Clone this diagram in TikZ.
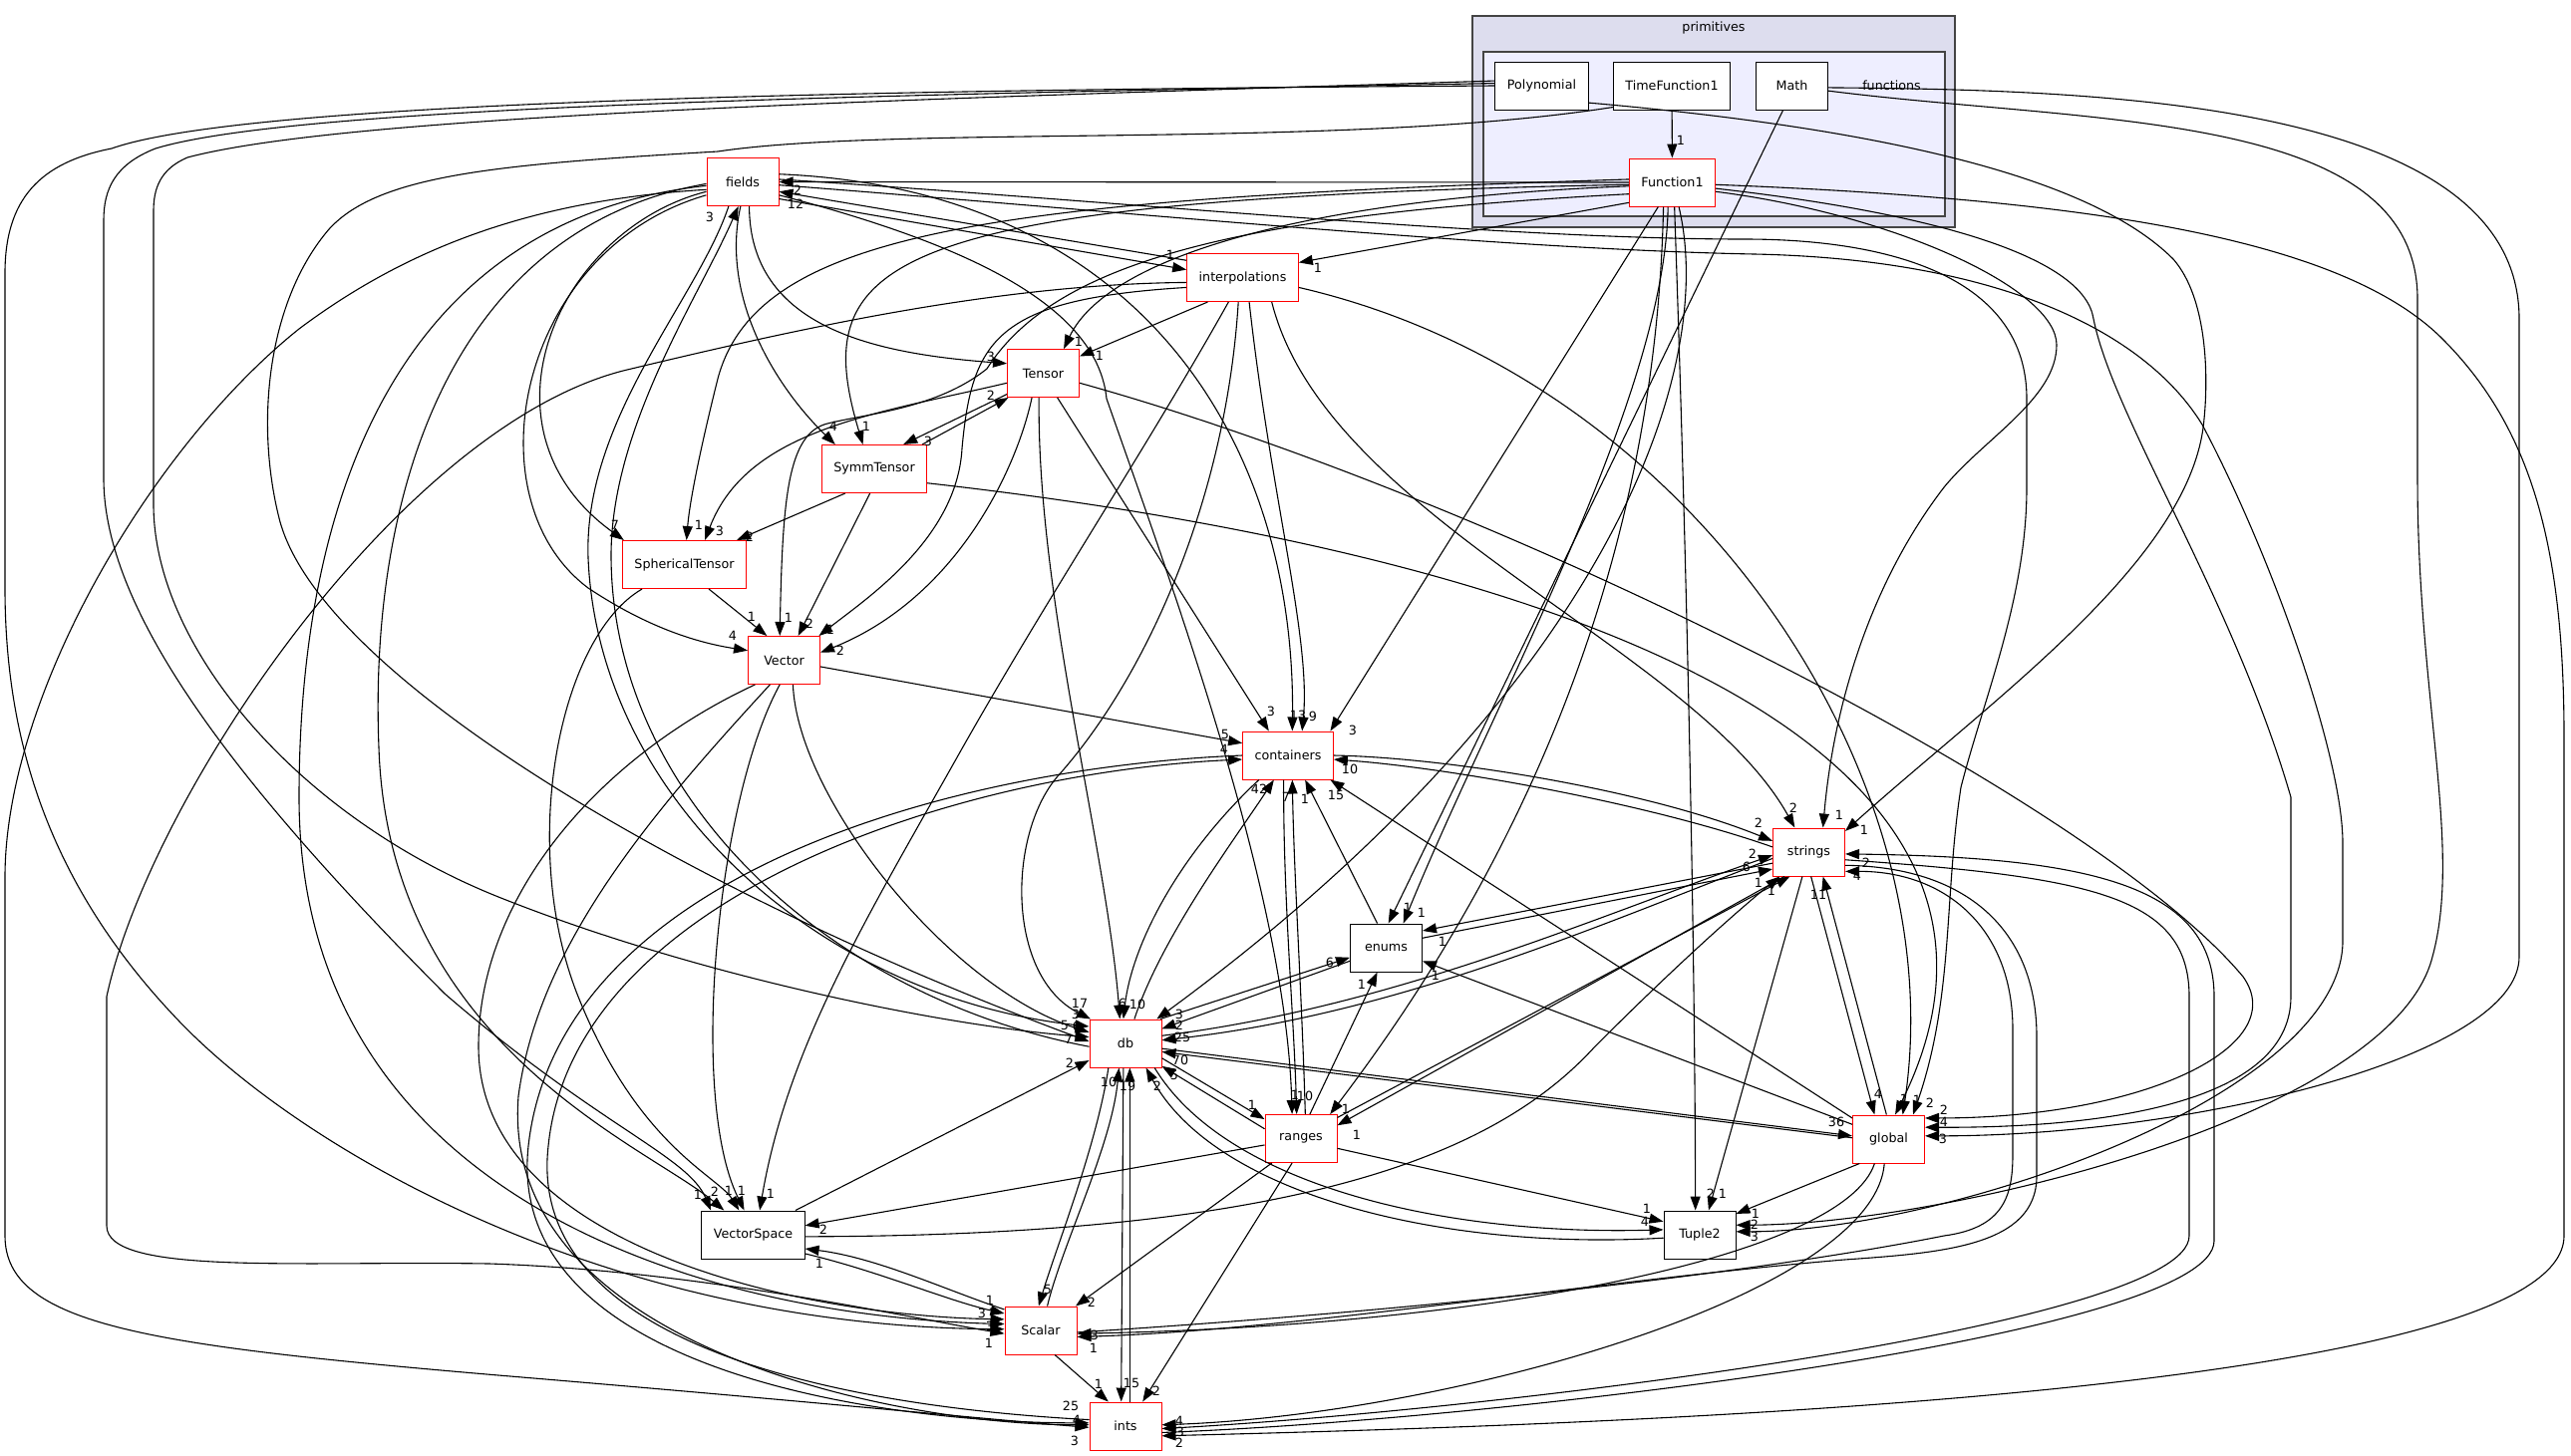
\documentclass[tikz,border=0pt]{standalone}
\usepackage{fontspec}
\setmainfont{DejaVu Sans}
\usetikzlibrary{arrows.meta}
\newcommand\nf{\fontsize{12.7pt}{15pt}\selectfont}
\newcounter{lc}
\newcommand\lbl[2]{\stepcounter{lc}\node[lab] (lab\thelc) at (#1) {#2};}
\definecolor{outerfill}{HTML}{DDDDEE}
\definecolor{innerfill}{HTML}{EEEEFF}
\definecolor{clborder}{HTML}{444444}
\begin{document}
\begin{tikzpicture}[x=1pt,y=-1pt,
  box/.style={draw=black,fill=white,line width=1pt,minimum width=72pt,minimum height=48pt,inner xsep=12pt,inner ysep=0pt,font=\nf},
  rbox/.style={box,draw=red},
  e/.style={line width=1.1pt,-{Triangle[length=14pt,width=10pt]}},
  lab/.style={font=\nf,inner sep=0pt,text=black},
  cl/.style={draw=clborder,line width=1.5pt,inner sep=0pt}]
\useasboundingbox (0,0) rectangle (2579,1460);
% clusters
\node[cl,fill=outerfill,minimum width=484pt,minimum height=212pt] (primitives) at (1719,122) {};
\node[cl,fill=innerfill,minimum width=463pt,minimum height=165pt] (functions) at (1719.5,134.5) {};
\node[lab] (primlabel) at (1719,28) {primitives};
\node[lab] (funclabel) at (1897.5,86) {functions};
% nodes
\node[box] (poly) at (1546.5,86) {Polynomial};
\node[box] (tf1) at (1677,86) {TimeFunction1};
\node[box] (math) at (1797.5,86) {Math};
\node[rbox] (f1) at (1677.5,183) {Function1};
\node[rbox] (fields) at (745,182.5) {fields};
\node[rbox] (interp) at (1246.5,278.5) {interpolations};
\node[rbox] (tensor) at (1046.5,374.5) {Tensor};
\node[rbox] (symm) at (877,470.5) {SymmTensor};
\node[rbox] (sph) at (686.5,566.5) {SphericalTensor};
\node[rbox] (vector) at (786.5,662.5) {Vector};
\node[rbox] (cont) at (1292,758) {containers};
\node[rbox] (strings) at (1814.5,855) {strings};
\node[box] (enums) at (1390.5,951) {enums};
\node[rbox] (db) at (1129,1047) {db};
\node[rbox] (ranges) at (1305,1142.5) {ranges};
\node[rbox] (global) at (1894.5,1143) {global};
\node[box] (vspace) at (755.5,1239) {VectorSpace};
\node[box] (tuple2) at (1705,1239) {Tuple2};
\node[rbox] (scalar) at (1044,1335) {Scalar};
\node[rbox] (ints) at (1129,1431) {ints};
% ---- edges
\draw[e] (tf1) -- (f1); \lbl{1686,141}{1}
% fields / interpolations
\draw[e] (f1.west) -- (fields.east); \lbl{800,191}{2}
\draw[e] (interp.163) -- (fields.-15); \lbl{798,205}{12}
\draw[e] (fields.-25) -- (interp.172); \lbl{1174,256}{1}
\draw[e] (f1.205) -- (interp.15); \lbl{1322,269}{1}
% tensor
\draw[e] (fields.-75) .. controls (752,330) and (880,355) .. (tensor.165); \lbl{994,358}{3}
\draw[e] (f1.185) .. controls (1300,200) and (1110,260) .. (tensor.50); \lbl{1082,343}{1}
\draw[e] (interp.215) -- (tensor.25); \lbl{1103,357}{1}
\draw[e] (symm.27) -- (tensor.-145); \lbl{994,397}{2}
% symm
\draw[e] (tensor.-150) -- (symm.40); \lbl{931,443}{3}
\draw[e] (fields.-95) .. controls (722,300) and (780,390) .. (symm.148); \lbl{836,428}{4}
\draw[e] (f1.183) .. controls (880,200) and (810,260) .. (symm.115); \lbl{869,428}{1}
% spherical tensor
\draw[e] (f1.176) .. controls (1000,200) and (760,230) .. (720,380) .. controls (705,440) and (692,500) .. (sph.85); \lbl{701,527}{1}
\draw[e] (tensor.195) .. controls (880,415) and (750,430) .. (sph.50); \lbl{722,533}{3}
\draw[e] (symm.-140) -- (sph.25); \lbl{752,539}{2}
\draw[e] (fields.195) .. controls (560,230) and (470,430) .. (sph.158); \lbl{617,527}{7}
% vector
\draw[e] (fields.200) .. controls (520,250) and (470,500) .. (590,590) .. controls (650,630) and (700,645) .. (vector.165); \lbl{735,638}{4}
\draw[e] (sph.-45) -- (vector.125); \lbl{754,619}{1}
\draw[e] (f1.195) .. controls (1250,215) and (1060,260) .. (990,370) .. controls (940,410) and (870,415) .. (830,425) .. controls (790,435) and (785,500) .. (vector.100); \lbl{791,620}{1}
\draw[e] (symm.-100) -- (vector.60); \lbl{812,626}{2}
\draw[e] (interp.190) .. controls (1000,300) and (975,340) .. (965,450) .. controls (960,540) and (870,600) .. (vector.35); \lbl{833,632}{1}
\draw[e] (tensor.-115) .. controls (1020,470) and (960,600) .. (vector.12); \lbl{843,653}{2}
% containers
\draw[e] (vector.-10) -- (cont.165); \lbl{1229,737}{5}
\draw[e] (tensor.-60) -- (cont.128); \lbl{1275,714}{3}
\draw[e] (fields.12) .. controls (1150,190) and (1300,450) .. (cont.80); \lbl{1302,718}{13}
\draw[e] (interp.-75) .. controls (1275,500) and (1315,640) .. (cont.60); \lbl{1317,719}{9}
\draw[e] (f1.-120) -- (cont.30); \lbl{1357,733}{3}
\draw[e] (strings.172) .. controls (1650,805) and (1450,770) .. (cont.-5); \lbl{1354,772}{10}
\draw[e] (cont.0) .. controls (1450,760) and (1650,792) .. (strings.163); \lbl{1764,826}{2}
\draw[e] (db.70) .. controls (1165,940) and (1240,840) .. (cont.-120); \lbl{1263,792}{42}
\draw[e] (cont.-140) .. controls (1180,860) and (1135,950) .. (db.95); \lbl{1141,1008}{10}
\draw[e] (enums.110) -- (cont.-55); \lbl{1309,802}{1}
\draw[e] (ranges.80) .. controls (1306,1000) and (1298,880) .. (cont.-80); \lbl{1290,800}{7}
\draw[e] (cont.-100) .. controls (1287,900) and (1298,1020) .. (ranges.100); \lbl{1309,1100}{10}
\draw[e] (global.150) -- (cont.-30); \lbl{1340,798}{15}
\draw[e] (cont.180) .. controls (950,770) and (560,880) .. (530,1150) .. controls (505,1380) and (900,1428) .. (ints.175); \lbl{1074,1411}{25}
\draw[e] (ints.170) .. controls (910,1415) and (525,1370) .. (550,1150) .. controls (575,900) and (960,775) .. (cont.185); \lbl{1228,752}{4}
% strings
\draw[e] (interp.-40) .. controls (1330,520) and (1700,650) .. (strings.120); \lbl{1799,811}{2}
\draw[e] (f1.-12) .. controls (1900,215) and (2063,290) .. (2063,346) .. controls (2063,400) and (1990,440) .. (1950,489) .. controls (1880,580) and (1840,700) .. (strings.60); \lbl{1845,818}{1}
\draw[e] (poly.-20) .. controls (1900,130) and (2100,180) .. (2180,260) .. controls (2215,300) and (2215,380) .. (2211,420) .. controls (2200,560) and (2000,700) .. (strings.30); \lbl{1870,833}{1}
\draw[e] (db.12) .. controls (1400,1010) and (1600,920) .. (strings.185); \lbl{1758,857}{2}
\draw[e] (strings.190) .. controls (1600,930) and (1400,1018) .. (db.5); \lbl{1186,1041}{25}
\draw[e] (strings.197) -- (enums.25); \lbl{1447,945}{1}
\draw[e] (enums.15) -- (strings.205); \lbl{1752,870}{6}
\draw[e] (vspace.-2) .. controls (1300,1240) and (1500,1160) .. (1600,1050) .. controls (1700,950) and (1760,900) .. (strings.220); \lbl{1764,886}{1}
\draw[e] (ranges.30) -- (strings.232); \lbl{1777,894}{1}
\draw[e] (strings.225) -- (ranges.20); \lbl{1361,1139}{1}
\draw[e] (global.95) -- (strings.-60); \lbl{1824,898}{11}
\draw[e] (strings.-85) -- (global.120); \lbl{1884,1098}{4}
\draw[e] (scalar.-3) .. controls (1500,1310) and (1800,1270) .. (1950,1240) .. controls (2010,1232) and (2019,1200) .. (2019,1158) -- (2019,1033) .. controls (2019,930) and (1950,874) .. (strings.-28); \lbl{1863,879}{4}
\draw[e] (strings.-20) .. controls (1980,870) and (2043,940) .. (2043,1040) -- (2043,1180) .. controls (2043,1250) and (1950,1257) .. (1850,1264) .. controls (1600,1285) and (1300,1335) .. (scalar.-10); \lbl{1097,1353}{1}
\draw[e] (ints.-10) .. controls (1500,1425) and (2221,1340) .. (2221,1245) -- (2221,1000) .. controls (2221,890) and (2100,860) .. (strings.-3); \lbl{1872,866}{2}
\draw[e] (strings.-12) .. controls (2100,880) and (2196,900) .. (2196,1000) -- (2196,1240) .. controls (2196,1330) and (1500,1415) .. (ints.-4); \lbl{1184,1437}{3}
% tuple2
\draw[e] (strings.-105) -- (tuple2.70); \lbl{1716,1198}{2}
\draw[e] (f1.-85) .. controls (1690,500) and (1700,900) .. (tuple2.100); \lbl{1728,1198}{1}
\draw[e] (ranges.-15) -- (tuple2.160); \lbl{1652,1213}{1}
\draw[e] (db.-40) .. controls (1230,1190) and (1450,1240) .. (tuple2.172); \lbl{1650,1226}{4}
\draw[e] (tuple2.185) .. controls (1450,1255) and (1220,1200) .. (db.-50); \lbl{1161,1090}{2}
\draw[e] (global.-140) -- (tuple2.30); \lbl{1761,1218}{1}
\draw[e] (math.-8) .. controls (2100,125) and (2425,110) .. (2425,300) -- (2425,480) .. controls (2425,700) and (2470,850) .. (2440,960) .. controls (2400,1120) and (1950,1229) .. (tuple2.15); \lbl{1760,1229}{2}
\draw[e] (fields.-5) .. controls (1100,210) and (1500,250) .. (1760,255) .. controls (2000,260) and (2150,330) .. (2209,426) .. controls (2280,560) and (2350,760) .. (2350,846) -- (2350,944) .. controls (2350,1100) and (1950,1236) .. (tuple2.5); \lbl{1760,1241}{3}
% global
\draw[e] (symm.-15) .. controls (1600,560) and (2080,760) .. (global.75); \lbl{1910,1103}{1}
\draw[e] (interp.-10) .. controls (1700,380) and (1960,780) .. (global.60); \lbl{1923,1104}{1}
\draw[e] (fields.4) .. controls (1100,200) and (1500,240) .. (1750,240) .. controls (1900,240) and (2033,280) .. (2033,400) -- (2033,489) .. controls (2033,600) and (1990,700) .. (1967,790) .. controls (1950,900) and (1960,1000) .. (global.45); \lbl{1936,1107}{2}
\draw[e] (tensor.-15) .. controls (1500,500) and (2100,800) .. (2250,980) .. controls (2300,1050) and (2150,1122) .. (global.30); \lbl{1950,1114}{2}
\draw[e] (f1.-8) .. controls (1950,215) and (2091,260) .. (2100,320) .. controls (2120,420) and (2240,600) .. (2298,800) -- (2298,1000) .. controls (2298,1110) and (2100,1132) .. (global.18); \lbl{1950,1126}{4}
\draw[e] (math.-3) .. controls (2100,90) and (2527,100) .. (2527,320) -- (2527,960) .. controls (2527,1060) and (2200,1140) .. (global.5); \lbl{1949,1143}{3}
\draw[e] (db.-8) -- (global.175); \lbl{1842,1126}{36}
\draw[e] (global.178) -- (db.-13); \lbl{1184,1064}{70}
% enums
\draw[e] (math.-110) -- (enums.85); \lbl{1412,911}{1}
\draw[e] (f1.-100) .. controls (1670,400) and (1500,700) .. (enums.55); \lbl{1426,916}{1}
\draw[e] (global.158) -- (enums.-20); \lbl{1440,979}{1}
\draw[e] (db.35) -- (enums.195); \lbl{1334,966}{6}
\draw[e] (enums.200) -- (db.22); \lbl{1183,1029}{2}
\draw[e] (ranges.70) -- (enums.-110); \lbl{1366,988}{1}
% db
\draw[e] (f1.-75) .. controls (1725,380) and (1600,700) .. (db.38); \lbl{1183,1018}{3}
\draw[e] (interp.-100) .. controls (1230,500) and (1150,680) .. (1060,780) .. controls (1010,840) and (1010,980) .. (db.145); \lbl{1083,1007}{17}
\draw[e] (tensor.-100) .. controls (1040,600) and (1110,850) .. (db.103); \lbl{1126,1007}{6}
\draw[e] (fields.-120) .. controls (700,300) and (585,420) .. (590,560) .. controls (600,800) and (820,1000) .. (db.155); \lbl{1079,1018}{3}
\draw[e] (db.185) .. controls (830,1000) and (615,800) .. (613,560) .. controls (612,430) and (700,300) .. (fields.-100); \lbl{712,218}{3}
\draw[e] (vector.-70) .. controls (800,800) and (950,990) .. (db.163); \lbl{1068,1029}{5}
\draw[e] (poly.174) .. controls (900,100) and (350,115) .. (188,158) .. controls (160,170) and (154,190) .. (154,212) -- (154,506) .. controls (154,650) and (300,820) .. (500,900) .. controls (700,980) and (950,1030) .. (db.170); \lbl{1080,1030}{6}
\draw[e] (tf1.200) .. controls (1350,150) and (900,125) .. (720,152) .. controls (500,165) and (380,175) .. (330,230) .. controls (270,300) and (255,420) .. (280,520) .. controls (320,680) and (700,900) .. (db.177); \lbl{1072,1043}{7}
\draw[e] (vspace.30) -- (db.205); \lbl{1073,1067}{2}
\draw[e] (db.-22) -- (ranges.152); \lbl{1256,1109}{1}
\draw[e] (ranges.165) -- (db.-32); \lbl{1178,1079}{5}
% ranges
\draw[e] (f1.-110) .. controls (1660,600) and (1500,900) .. (ranges.40); \lbl{1350,1113}{1}
\draw[e] (fields.-20) .. controls (950,240) and (1100,300) .. (1110,400) .. controls (1180,600) and (1290,900) .. (ranges.110); \lbl{1299,1099}{1}
% vectorspace
\draw[e] (poly.177) .. controls (900,95) and (300,105) .. (156,149) .. controls (115,165) and (104,190) .. (104,221) -- (104,480) .. controls (104,620) and (250,800) .. (446,997) .. controls (600,1130) and (690,1160) .. (vspace.150); \lbl{700,1199}{1}
\draw[e] (fields.183) .. controls (450,230) and (370,500) .. (380,750) .. controls (390,1050) and (650,1150) .. (vspace.140); \lbl{717,1196}{2}
\draw[e] (sph.-150) .. controls (560,640) and (520,850) .. (580,1000) .. controls (640,1150) and (720,1180) .. (vspace.120); \lbl{731,1195}{1}
\draw[e] (vector.-100) .. controls (720,800) and (690,1100) .. (vspace.110); \lbl{744,1195}{1}
\draw[e] (interp.-120) .. controls (1150,450) and (1050,600) .. (960,760) .. controls (870,920) and (790,1050) .. (vspace.75); \lbl{773,1198}{1}
\draw[e] (ranges.190) -- (vspace.10); \lbl{826,1234}{2}
\draw[e] (scalar.150) .. controls (950,1295) and (880,1262) .. (vspace.-15); \lbl{822,1268}{1}
\draw[e] (vspace.-20) .. controls (880,1275) and (950,1305) .. (scalar.155); \lbl{993,1305}{1}
% scalar
\draw[e] (poly.180) .. controls (900,90) and (250,100) .. (112,149) .. controls (40,163) and (5,200) .. (5,274) -- (5,590) .. controls (5,760) and (60,900) .. (180,1025) .. controls (300,1150) and (600,1330) .. (scalar.178); \lbl{993,1331}{3}
\draw[e] (fields.186) .. controls (400,220) and (300,500) .. (300,800) .. controls (300,1200) and (700,1320) .. (scalar.170); \lbl{996,1318}{7}
\draw[e] (vector.-140) .. controls (600,760) and (480,900) .. (480,1050) .. controls (480,1250) and (800,1320) .. (scalar.163); \lbl{985,1318}{3}
\draw[e] (interp.185) .. controls (1000,285) and (800,330) .. (625,372) .. controls (400,430) and (150,800) .. (107,1000) -- (107,1230) .. controls (107,1280) and (300,1265) .. (491,1268) .. controls (700,1275) and (900,1320) .. (scalar.185); \lbl{992,1348}{1}
\draw[e] (db.-125) .. controls (1100,1150) and (1060,1250) .. (scalar.95); \lbl{1051,1294}{5}
\draw[e] (scalar.75) .. controls (1065,1250) and (1115,1150) .. (db.-105); \lbl{1112,1086}{10}
\draw[e] (ranges.-140) -- (scalar.35); \lbl{1095,1307}{2}
\draw[e] (global.-120) .. controls (1850,1260) and (1500,1330) .. (scalar.-5); \lbl{1098,1340}{3}
% ints
\draw[e] (scalar.-60) -- (ints.125); \lbl{1102,1389}{1}
\draw[e] (db.-95) -- (ints.100); \lbl{1135,1388}{15}
\draw[e] (ints.80) -- (db.-80); \lbl{1131,1090}{19}
\draw[e] (ranges.-110) -- (ints.55); \lbl{1160,1396}{2}
\draw[e] (vector.-120) .. controls (650,820) and (540,950) .. (520,1100) .. controls (500,1350) and (900,1430) .. (ints.178); \lbl{1080,1425}{4}
\draw[e] (fields.192) .. controls (550,200) and (420,240) .. (300,330) .. controls (150,450) and (5,700) .. (5,880) -- (5,1240) .. controls (5,1330) and (150,1350) .. (500,1380) .. controls (800,1405) and (1000,1425) .. (ints.182); \lbl{1078,1446}{3}
\draw[e] (global.-100) .. controls (1880,1300) and (1450,1420) .. (ints.2); \lbl{1183,1426}{4}
\draw[e] (f1.-3) .. controls (2100,200) and (2350,240) .. (2450,340) .. controls (2540,430) and (2572,550) .. (2572,740) -- (2572,1240) .. controls (2572,1400) and (1600,1430) .. (ints.-15); \lbl{1183,1448}{2}
\end{tikzpicture}
\end{document}
